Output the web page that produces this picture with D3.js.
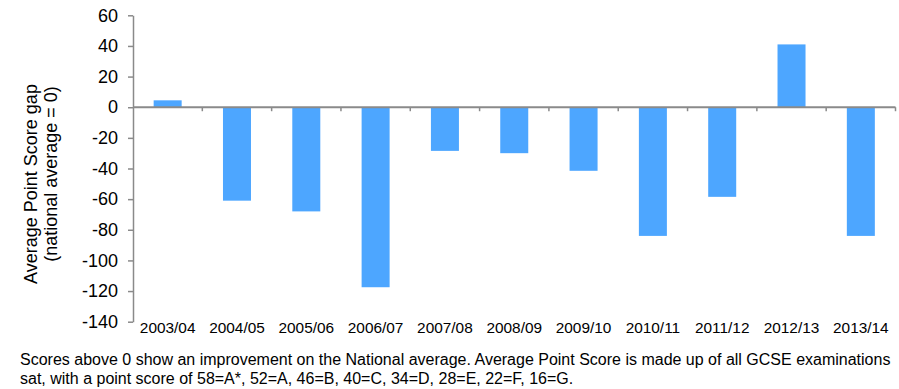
<!DOCTYPE html>
<html>
<head>
<meta charset="utf-8">
<script src="https://cdn.jsdelivr.net/npm/d3@7"></script>
<style>
  html, body { margin: 0; padding: 0; background: #fff; }
  svg { display: block; font-family: "Liberation Sans", Arial, sans-serif; }
</style>
</head>
<body>
<svg id="chart" width="899" height="389"></svg>
<script>
// Academic years and the Average Point Score gap against the national average
const years = ["2003/04", "2004/05", "2005/06", "2006/07", "2007/08", "2008/09",
               "2009/10", "2010/11", "2011/12", "2012/13", "2013/14"];
const scoreGap = [4.5, -61, -68, -117.5, -28.5, -30, -41.5, -84, -58.5, 41, -84];
const yTicks = [60, 40, 20, 0, -20, -40, -60, -80, -100, -120, -140];
const yTitleLines = ["Average Point Score gap", "(national average = 0)"];
const footnoteLines = [
  "Scores above 0 show an improvement on the National average. Average Point Score is made up of all GCSE examinations",
  "sat, with a point score of 58=A*, 52=A, 46=B, 40=C, 34=D, 28=E, 22=F, 16=G."
];

const svg = d3.select("#chart");
const axisColor = "#8a8a8a";
const barColor = "#4da6ff";

const plot = { left: 133, right: 895.5, top: 15.3, bottom: 321.7 };

const x = d3.scaleBand().domain(years).range([plot.left, plot.right]).padding(0);
const y = d3.scaleLinear().domain([-140, 60]).range([plot.bottom, plot.top]);

const barW = x.bandwidth() * 0.404;

// Bars grow from the zero line
svg.append("g")
  .selectAll("rect")
  .data(years.map((yr, i) => ({ yr, v: scoreGap[i] })))
  .join("rect")
  .attr("x", d => x(d.yr) + (x.bandwidth() - barW) / 2)
  .attr("y", d => y(Math.max(0, d.v)))
  .attr("width", barW)
  .attr("height", d => Math.abs(y(d.v) - y(0)))
  .attr("fill", barColor);

// Vertical value axis (plain hyphen for negatives)
const yAxis = svg.append("g")
  .attr("transform", `translate(${plot.left},0)`)
  .call(d3.axisLeft(y).tickValues(yTicks).tickFormat(d => String(d))
    .tickSize(5).tickPadding(10).tickSizeOuter(0));
yAxis.select(".domain").attr("stroke", axisColor).attr("stroke-width", 1.5);
yAxis.selectAll(".tick line").attr("stroke", axisColor).attr("stroke-width", 1.5);
yAxis.selectAll(".tick text")
  .attr("fill", "#000")
  .attr("font-size", 18)
  .attr("font-family", "Liberation Sans, Arial, sans-serif");

// Horizontal category axis at zero, with ticks on the band boundaries
const xAxis = svg.append("g");
xAxis.append("line")
  .attr("x1", plot.left).attr("x2", plot.right)
  .attr("y1", y(0)).attr("y2", y(0))
  .attr("stroke", axisColor).attr("stroke-width", 2);
const bounds = years.map(yr => x(yr) + x.bandwidth());
xAxis.selectAll("line.tk")
  .data(bounds)
  .join("line")
  .attr("class", "tk")
  .attr("x1", d => d).attr("x2", d => d)
  .attr("y1", y(0)).attr("y2", y(0) + 4)
  .attr("stroke", axisColor).attr("stroke-width", 1.5);

// Category labels sit below the plot area
svg.append("g")
  .selectAll("text")
  .data(years)
  .join("text")
  .attr("x", d => x(d) + x.bandwidth() / 2)
  .attr("y", plot.bottom + 11.5)
  .attr("text-anchor", "middle")
  .attr("font-size", 15.4)
  .attr("fill", "#000")
  .text(d => d);

// Y-axis title (two rotated lines)
const titlePos = [{ bx: 37, cy: 184 }, { bx: 57, cy: 174 }];
svg.append("g")
  .selectAll("text")
  .data(yTitleLines)
  .join("text")
  .attr("transform", (d, i) => `translate(${titlePos[i].bx},${titlePos[i].cy}) rotate(-90)`)
  .attr("text-anchor", "middle")
  .attr("font-size", 18)
  .attr("fill", "#000")
  .text(d => d);

// Footnote
svg.append("g")
  .selectAll("text")
  .data(footnoteLines)
  .join("text")
  .attr("x", 20)
  .attr("y", (d, i) => 365 + i * 19)
  .attr("font-size", 16)
  .attr("fill", "#000")
  .text(d => d);
</script>
</body>
</html>
